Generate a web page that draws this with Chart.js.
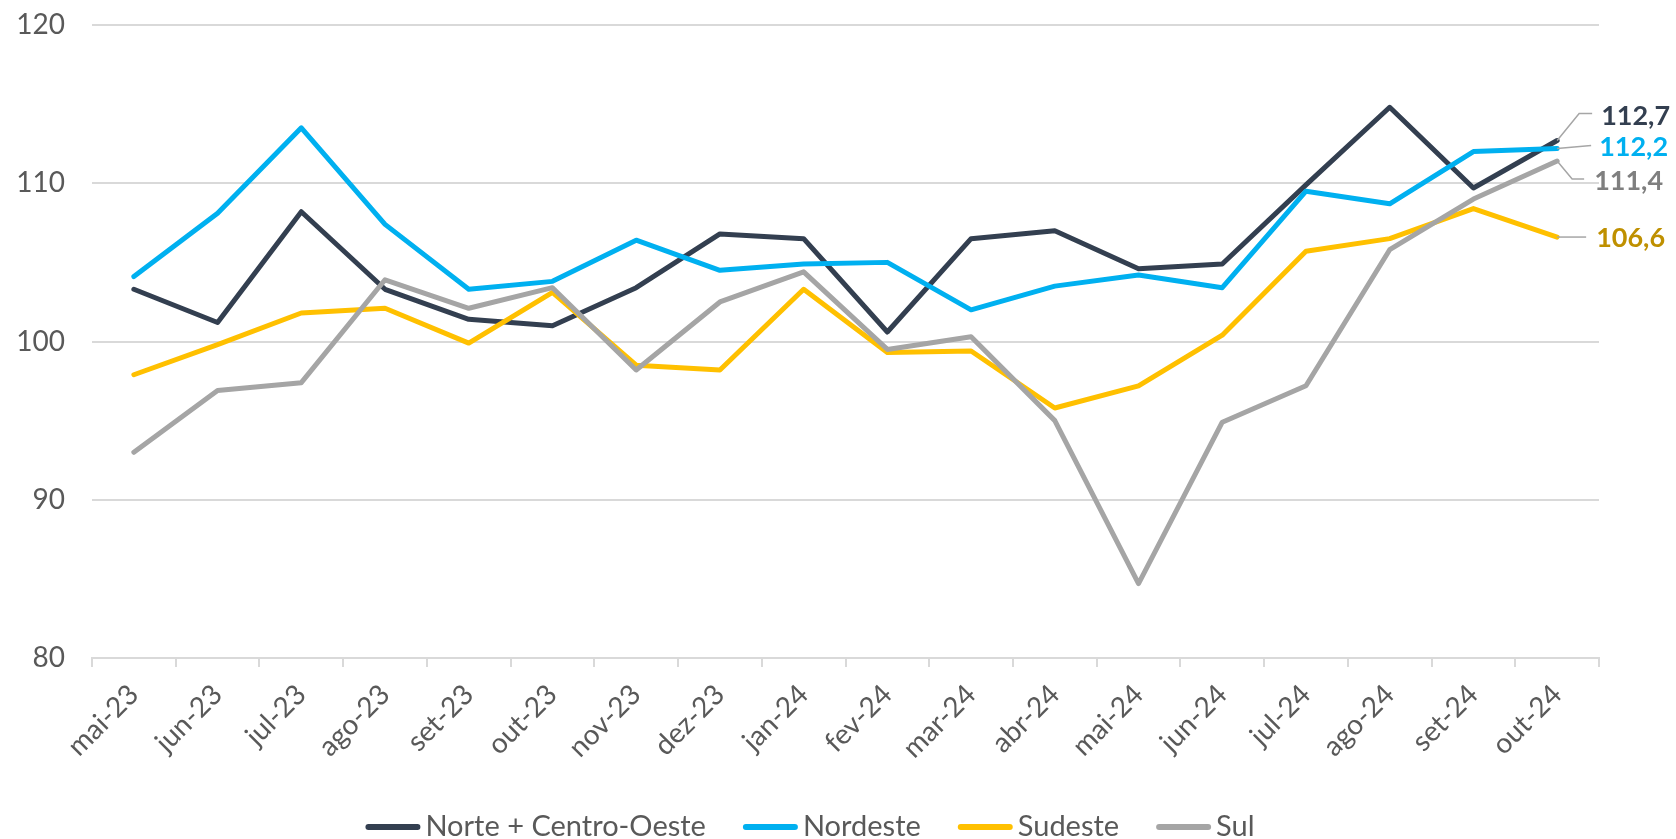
<!DOCTYPE html>
<html lang="pt-BR">
<head>
<meta charset="utf-8">
<title>Índice por região</title>
<script src="https://cdn.jsdelivr.net/npm/chart.js@4.4.1/dist/chart.umd.min.js"></script>
<style>
    html, body { margin: 0; padding: 0; background: #fff; }
    #wrap { width: 1676px; height: 839px; position: relative; }
</style>
</head>
<body>
<div id="wrap"><canvas id="chart" width="1676" height="839"></canvas></div>
<script>
// Dados
const meses = ['mai-23', 'jun-23', 'jul-23', 'ago-23', 'set-23', 'out-23', 'nov-23', 'dez-23', 'jan-24',
    'fev-24', 'mar-24', 'abr-24', 'mai-24', 'jun-24', 'jul-24', 'ago-24', 'set-24', 'out-24'];
const norteCentroOeste = [103.3, 101.2, 108.2, 103.3, 101.4, 101.0, 103.4, 106.8, 106.5, 100.6, 106.5, 107.0, 104.6, 104.9, 109.9, 114.8, 109.7, 112.7];
const nordeste = [104.1, 108.1, 113.5, 107.4, 103.3, 103.8, 106.4, 104.5, 104.9, 105.0, 102.0, 103.5, 104.2, 103.4, 109.5, 108.7, 112.0, 112.2];
const sudeste = [97.9, 99.8, 101.8, 102.1, 99.9, 103.1, 98.5, 98.2, 103.3, 99.3, 99.4, 95.8, 97.2, 100.4, 105.7, 106.5, 108.4, 106.6];
const sul = [93.0, 96.9, 97.4, 103.9, 102.1, 103.4, 98.2, 102.5, 104.4, 99.5, 100.3, 95.0, 84.7, 94.9, 97.2, 105.8, 109.0, 111.4];
const eixoY = { min: 80, max: 120, passo: 10 };

const FONTE = 'Lato, "Noto Sans", sans-serif';
const CINZA_TEXTO = '#595959';
const CINZA_GRADE = '#D9D9D9';

// Posição dos rótulos finais (deslocamentos a partir do último ponto)
const rotulosFinais = [
    { cor: '#333F50', guia: [[22, -27], [35, -27]], texto: [44, -24] },
    { cor: '#00B0F0', guia: [[34, -3]], texto: [42, -1] },
    { cor: '#BF9000', guia: [[29, 0]], texto: [39, 1] },
    { cor: '#7F7F7F', guia: [[15, 18], [27, 18]], texto: [37, 20] }
];

// Rótulos no fim de cada linha
const pluginRotulos = {
    id: 'rotulosFinais',
    afterDatasetsDraw(chart) {
        const ctx = chart.ctx;
        chart.data.datasets.forEach((ds, i) => {
            const meta = chart.getDatasetMeta(i);
            const last = meta.data[meta.data.length - 1];
            const cfg = rotulosFinais[i];
            ctx.save();
            ctx.strokeStyle = '#A6A6A6';
            ctx.lineWidth = 1.5;
            ctx.beginPath();
            ctx.moveTo(last.x, last.y);
            cfg.guia.forEach(p => ctx.lineTo(last.x + p[0], last.y + p[1]));
            ctx.stroke();
            ctx.fillStyle = cfg.cor;
            ctx.font = 'bold 27px ' + FONTE;
            ctx.textAlign = 'left';
            ctx.textBaseline = 'middle';
            const valor = ds.data[ds.data.length - 1].toFixed(1).replace('.', ',');
            ctx.fillText(valor, last.x + cfg.texto[0], last.y + cfg.texto[1]);
            ctx.restore();
        });
    }
};

// Legenda desenhada à mão (traço longo e texto colado)
const pluginLegenda = {
    id: 'legendaLinhas',
    afterDraw(chart) {
        const ctx = chart.ctx;
        const traco = 55, folga = 5, entre = 37, centroX = 810, y = 827;
        ctx.save();
        ctx.font = '29px ' + FONTE;
        const itens = chart.data.datasets.map(ds => ({ ds, w: ctx.measureText(ds.label).width }));
        const total = itens.reduce((s, it) => s + traco + folga + it.w, 0) + entre * (itens.length - 1);
        let x = centroX - total / 2;
        itens.forEach(it => {
            ctx.strokeStyle = it.ds.borderColor;
            ctx.lineWidth = 6;
            ctx.lineCap = 'round';
            ctx.beginPath();
            ctx.moveTo(x + 3, y);
            ctx.lineTo(x + traco - 3, y);
            ctx.stroke();
            x += traco + folga;
            ctx.fillStyle = CINZA_TEXTO;
            ctx.textAlign = 'left';
            ctx.textBaseline = 'middle';
            ctx.fillText(it.ds.label, x, y);
            x += it.w + entre;
        });
        ctx.restore();
    }
};

function serie(label, data, cor, ordem) {
    return {
        label: label,
        data: data,
        borderColor: cor,
        backgroundColor: cor,
        borderWidth: 5,
        borderCapStyle: 'round',
        borderJoinStyle: 'round',
        pointRadius: 0,
        pointHoverRadius: 0,
        tension: 0,
        order: ordem
    };
}

const ctx = document.getElementById('chart').getContext('2d');
const chart = new Chart(ctx, {
    type: 'line',
    data: {
        labels: meses,
        datasets: [
            serie('Norte + Centro-Oeste', norteCentroOeste, '#333F50', 4),
            serie('Nordeste', nordeste, '#00B0F0', 3),
            serie('Sudeste', sudeste, '#FFC000', 2),
            serie('Sul', sul, '#A5A5A5', 1)
        ]
    },
    options: {
        responsive: false,
        animation: false,
        devicePixelRatio: 1,
        layout: { padding: { top: 25, right: 77, bottom: 71, left: 0 } },
        plugins: {
            legend: { display: false },
            tooltip: { enabled: false }
        },
        scales: {
            x: {
                offset: true,
                grid: {
                    offset: true,
                    drawOnChartArea: false,
                    drawTicks: true,
                    tickLength: 9,
                    color: CINZA_GRADE,
                    lineWidth: 2
                },
                border: { display: true, color: CINZA_GRADE, width: 2 },
                ticks: {
                    minRotation: 45,
                    maxRotation: 45,
                    autoSkip: false,
                    padding: 11,
                    color: CINZA_TEXTO,
                    font: { family: FONTE, size: 28 }
                },
                afterFit(scale) { scale.height = 110; }
            },
            y: {
                min: eixoY.min,
                max: eixoY.max,
                border: { display: false },
                grid: { color: CINZA_GRADE, lineWidth: 2, drawTicks: true, tickLength: 27, tickColor: 'rgba(0,0,0,0)' },
                ticks: {
                    stepSize: eixoY.passo,
                    padding: 0,
                    color: CINZA_TEXTO,
                    font: { family: FONTE, size: 28 }
                },
                afterFit(scale) { scale.width = 92; }
            }
        }
    },
    plugins: [pluginRotulos, pluginLegenda]
});
</script>
</body>
</html>
